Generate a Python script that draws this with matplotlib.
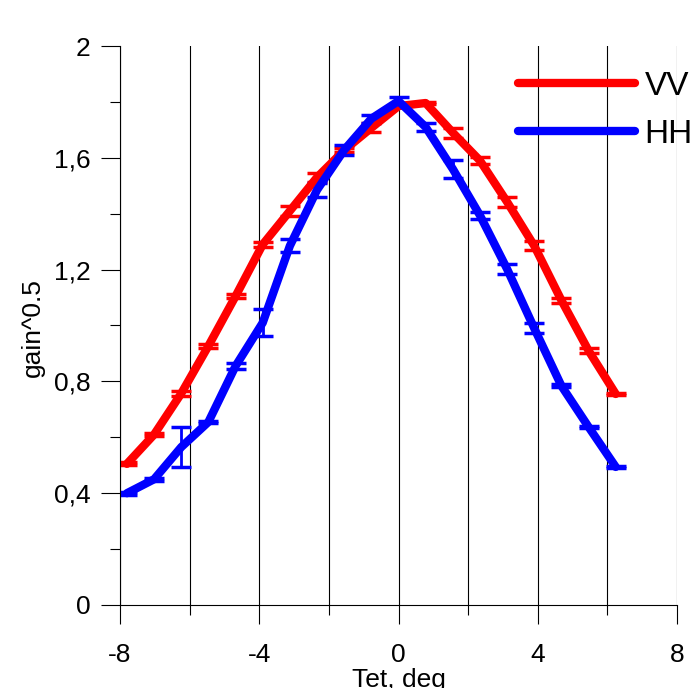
import matplotlib
matplotlib.use('Agg')
from matplotlib import pyplot as plt
from matplotlib.ticker import MultipleLocator
import numpy as np

# %% Data

tet = [-7.8, -7.02, -6.24, -5.46, -4.68, -3.9, -3.12, -2.34, -1.56, -0.78,
       0.0, 0.78, 1.56, 2.34, 3.12, 3.9, 4.68, 5.46, 6.24]

vv = [0.505, 0.61, 0.757, 0.927, 1.105, 1.29, 1.41, 1.53, 1.627, 1.707,
      1.785, 1.796, 1.69, 1.59, 1.442, 1.285, 1.09, 0.91, 0.755]
vv_err = [0.005, 0.005, 0.008, 0.006, 0.008, 0.01, 0.018, 0.016, 0.008, 0.016,
          0.005, 0.005, 0.018, 0.013, 0.018, 0.016, 0.01, 0.008, 0.005]

hh = [0.40, 0.45, 0.565, 0.655, 0.855, 1.01, 1.285, 1.485, 1.628, 1.74,
      1.803, 1.71, 1.56, 1.394, 1.202, 0.99, 0.784, 0.637, 0.494]
hh_err = [0.005, 0.005, 0.073, 0.005, 0.011, 0.048, 0.023, 0.025, 0.018, 0.014,
          0.014, 0.013, 0.032, 0.012, 0.018, 0.018, 0.005, 0.005, 0.005]

yticks = [0, 0.4, 0.8, 1.2, 1.6, 2.0]
ytick_labels = ['0', '0,4', '0,8', '1,2', '1,6', '2']
xticks = [-8, -4, 0, 4, 8]

# %% Plot

plt.rcParams['font.family'] = ['Liberation Sans', 'DejaVu Sans']

fig = plt.figure(figsize=(6.96, 6.88), dpi=100)
ax = fig.add_axes([120/696, 83/688, 557/696, 559/688])

for y, e, c, lab in [(vv, vv_err, 'red', 'VV'), (hh, hh_err, 'blue', 'HH')]:
    ax.errorbar(tet, y, yerr=e, color=c, lw=6, elinewidth=2, capsize=7,
                capthick=2.5, label=lab, solid_capstyle='round',
                solid_joinstyle='round')

ax.set_xlim(-8, 8)
ax.set_ylim(0, 2)
ax.set_xticks(xticks)
ax.set_xticklabels([str(t) for t in xticks])
ax.xaxis.set_minor_locator(MultipleLocator(2))
ax.set_yticks(yticks)
ax.set_yticklabels(ytick_labels)
ax.yaxis.set_minor_locator(MultipleLocator(0.2))

ax.tick_params(axis='both', which='major', length=14, width=0.8,
               labelsize=19, pad=7)
ax.tick_params(axis='x', which='major', pad=13)
ax.tick_params(axis='both', which='minor', length=7, width=0.8)
ax.xaxis.grid(True, which='both', color='black', lw=0.8)
ax.set_axisbelow(True)
for s in ['top', 'right']:
    ax.spines[s].set_visible(False)

ax.set_xlabel('Tet, deg', fontsize=19)
ax.xaxis.set_label_coords(0.5, -0.113)
ax.set_ylabel('gain^0.5', fontsize=19)
ax.yaxis.set_label_coords(-0.135, 0.497)

handles, labels = ax.get_legend_handles_labels()
handles = [h[0] for h in handles]
leg = fig.legend(handles, labels, loc='upper left', frameon=False,
                 bbox_to_anchor=(518/696, (688-71)/688), borderpad=0,
                 borderaxespad=0, fontsize=24, handlelength=3.5,
                 handletextpad=0.3, labelspacing=0.5)
for line in leg.get_lines():
    line.set_solid_capstyle('round')

fig.savefig('out.png', dpi=100)
